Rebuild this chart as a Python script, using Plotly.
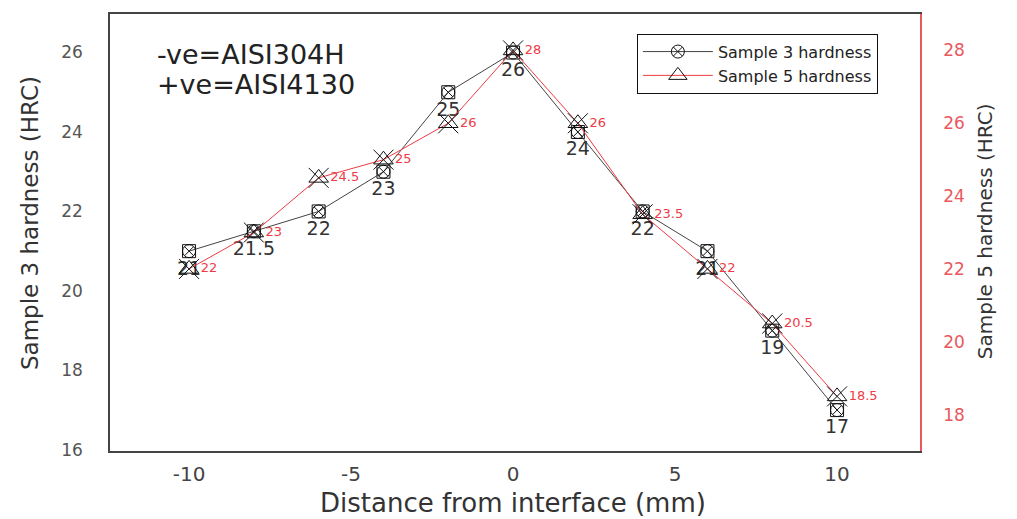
import plotly.graph_objects as go

# ---- data ----
distance = [-10, -8, -6, -4, -2, 0, 2, 4, 6, 8, 10]
sample3 = [21, 21.5, 22, 23, 25, 26, 24, 22, 21, 19, 17]
sample5 = [22, 23, 24.5, 25, 26, 28, 26, 23.5, 22, 20.5, 18.5]
x_ticks = [-10, -5, 0, 5, 10]
y1_ticks = [16, 18, 20, 22, 24, 26]
y2_ticks = [18, 20, 22, 24, 26, 28]

FONT = "DejaVu Sans"
RED = "#ee3b45"
RED_AX = "#e8585e"

def fmt(v):
    return f"{v:g}"

fig = go.Figure()

# Sample 3 (left axis)
fig.add_trace(go.Scatter(
    x=distance, y=sample3, mode="markers", yaxis="y",
    marker=dict(symbol="square-open", size=13, color="#111", line=dict(width=1)),
    showlegend=False, hoverinfo="skip"))
fig.add_trace(go.Scatter(
    x=distance, y=sample3, mode="lines+markers+text", yaxis="y",
    name="Sample 3 hardness",
    line=dict(color="#444", width=1),
    marker=dict(symbol="circle-x-open", size=13, color="#111", line=dict(width=1)),
    text=[fmt(v) for v in sample3], textposition="bottom center",
    textfont=dict(family=FONT, size=19, color="#333")))

# Sample 5 (right axis)
fig.add_trace(go.Scatter(
    x=distance, y=sample5, mode="lines+markers+text", yaxis="y2",
    name="Sample 5 hardness",
    line=dict(color=RED, width=1),
    marker=dict(symbol="triangle-up-open", size=17, color="#111", line=dict(width=1)),
    text=[fmt(v) for v in sample5], textposition="middle right",
    textfont=dict(family=FONT, size=13, color=RED)))
fig.add_trace(go.Scatter(
    x=distance, y=sample5, mode="markers", yaxis="y2",
    marker=dict(symbol="x-thin-open", size=20, color="#111", line=dict(width=1, color="#111")),
    showlegend=False, hoverinfo="skip"))

fig.update_layout(
    width=1017, height=519,
    margin=dict(l=110, r=97, t=12, b=68),
    paper_bgcolor="white", plot_bgcolor="white",
    font=dict(family=FONT, color="#333"),
    xaxis=dict(range=[-12.44, 12.56], tickvals=x_ticks, ticktext=[str(t) for t in x_ticks],
               showgrid=False, zeroline=False,
               showline=True, mirror=True, linecolor="#444", linewidth=1.5, ticks="",
               ticklabelstandoff=4, tickfont=dict(family=FONT, size=20, color="#444")),
    yaxis=dict(range=[15.97, 26.97], tickvals=y1_ticks, showgrid=False, zeroline=False,
               showline=True, linecolor="#444", linewidth=1.5, ticks="",
               ticklabelstandoff=22, tickfont=dict(family=FONT, size=17, color="#555")),
    yaxis2=dict(range=[17.0, 29.0], tickvals=y2_ticks, overlaying="y", side="right",
                showgrid=False, zeroline=False, showline=True, linecolor=RED_AX, linewidth=1.5,
                ticks="", ticklabelstandoff=18,
                tickfont=dict(family=FONT, size=17, color=RED_AX)),
    legend=dict(x=0.948, y=0.955, xanchor="right", yanchor="top",
                bordercolor="#111", borderwidth=1, bgcolor="white",
                font=dict(family=FONT, size=16, color="#222"),
                tracegroupgap=0, itemwidth=70),
    annotations=[
        dict(text="-ve=AISI304H", xref="paper", yref="paper", x=0.056, y=0.907,
             xanchor="left", yanchor="middle", showarrow=False,
             font=dict(family=FONT, size=27, color="#222")),
        dict(text="+ve=AISI4130", xref="paper", yref="paper", x=0.056, y=0.838,
             xanchor="left", yanchor="middle", showarrow=False,
             font=dict(family=FONT, size=27, color="#222")),
        dict(text="Sample 3 hardness (HRC)", xref="paper", yref="paper", x=-0.0988, y=0.5216,
             xanchor="center", yanchor="middle", textangle=-90, showarrow=False,
             font=dict(family=FONT, size=23, color="#333")),
        dict(text="Sample 5 hardness (HRC)", xref="paper", yref="paper", x=1.0802, y=0.503,
             xanchor="center", yanchor="middle", textangle=-90, showarrow=False,
             font=dict(family=FONT, size=20, color="#333")),
        dict(text="Distance from interface (mm)", xref="paper", yref="paper", x=0.4975, y=-0.118,
             xanchor="center", yanchor="middle", showarrow=False,
             font=dict(family=FONT, size=26, color="#333")),
    ],
)

fig.write_html("out.html")
